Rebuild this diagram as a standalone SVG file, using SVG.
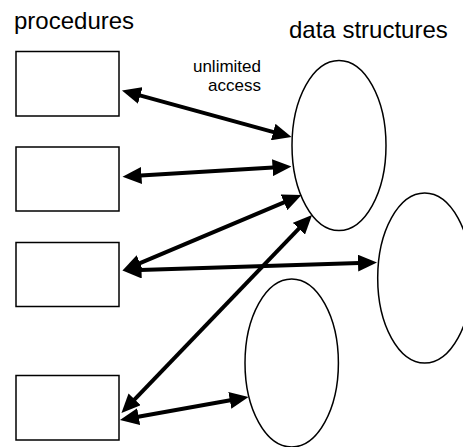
<svg xmlns="http://www.w3.org/2000/svg" width="463" height="447" viewBox="0 0 463 447">
<style>
.box{fill:#fff;stroke:#000;stroke-width:1.5}
.ds{fill:#fff;stroke:#000;stroke-width:1.5}
.arr{stroke:#000;stroke-width:4;fill:none;marker-start:url(#ah);marker-end:url(#ah)}
text{font-family:"Liberation Sans",Arial,sans-serif;fill:#000}
.title{font-size:24px}
.lbl{font-size:17px;text-anchor:end}
</style>
<defs>
<marker id="ah" markerUnits="userSpaceOnUse" markerWidth="19" markerHeight="17" refX="9" refY="8.5" orient="auto-start-reverse" viewBox="0 0 19 17">
<path d="M0,0 L19,8.5 L0,17 z" fill="#000"/>
</marker>
</defs>
<text class="title" x="14" y="29">procedures</text>
<text class="title" x="289" y="38">data structures</text>
<text class="lbl" x="261" y="72">unlimited</text>
<text class="lbl" x="261" y="91">access</text>
<g id="proc1"><rect class="box" x="16" y="51.5" width="103" height="64.5"/></g>
<g id="proc2"><rect class="box" x="16" y="147" width="103" height="64"/></g>
<g id="proc3"><rect class="box" x="16" y="242.5" width="103" height="64"/></g>
<g id="proc4"><rect class="box" x="16" y="375.5" width="103" height="64.5"/></g>
<g id="ds1"><ellipse class="ds" cx="339" cy="145.5" rx="47" ry="85"/></g>
<g id="ds2"><ellipse class="ds" cx="424.7" cy="278" rx="47" ry="85"/></g>
<g id="ds3"><ellipse class="ds" cx="291.7" cy="363" rx="46.7" ry="84"/></g>
<g id="connectors">
<line class="arr" x1="131.6" y1="93.1" x2="281.9" y2="134.4"/>
<line class="arr" x1="132.5" y1="176.1" x2="281.5" y2="167.1"/>
<line class="arr" x1="131.7" y1="266.6" x2="292.3" y2="198.9"/>
<line class="arr" x1="132.5" y1="270.2" x2="367" y2="262.8"/>
<line class="arr" x1="128.4" y1="405.8" x2="305.1" y2="222.2"/>
<line class="arr" x1="129.8" y1="418.2" x2="238.7" y2="398.8"/>
</g>
</svg>
